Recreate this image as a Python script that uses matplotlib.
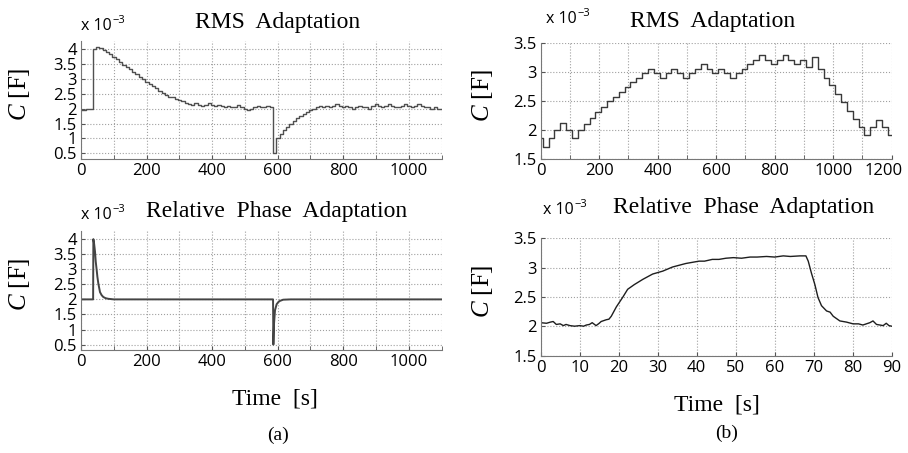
import numpy as np
import matplotlib
matplotlib.use("Agg")
import matplotlib.pyplot as plt
from matplotlib.ticker import MultipleLocator, FormatStrFormatter, FuncFormatter

plt.rcParams['mathtext.fontset'] = 'custom'
plt.rcParams['mathtext.it'] = 'Liberation Serif:italic'
plt.rcParams['mathtext.rm'] = 'Liberation Serif'

# (a) RMS adaptation, staircase (value holds from each time to the next)
rms_a_t = [0] + list(range(6, 1100, 10))
rms_a_c = [1.95, 1.95, 2.0, 2.0, 4.0, 4.08, 4.05, 3.97, 3.9, 3.82,
           3.73, 3.65, 3.57, 3.48, 3.4, 3.32, 3.24, 3.15, 3.07, 2.99,
           2.91, 2.84, 2.76, 2.68, 2.6, 2.53, 2.46, 2.4, 2.4, 2.33,
           2.28, 2.25, 2.2, 2.15, 2.12, 2.18, 2.12, 2.08, 2.12, 2.18,
           2.12, 2.08, 2.12, 2.08, 2.05, 2.08, 2.05, 2.05, 2.12, 2.05,
           2.0, 1.95, 2.0, 2.05, 2.1, 2.05, 2.05, 2.1, 2.05, 0.5,
           1.0, 1.15, 1.3, 1.4, 1.5, 1.6, 1.68, 1.75, 1.82, 1.88,
           1.95, 2.0, 2.05, 2.1, 2.05, 2.1, 2.05, 2.1, 2.15, 2.1,
           2.05, 2.1, 2.05, 2.0, 2.05, 2.1, 2.05, 2.05, 2.0, 2.1,
           2.15, 2.1, 2.05, 2.1, 2.15, 2.1, 2.05, 2.05, 2.1, 2.15,
           2.1, 2.05, 2.1, 2.15, 2.1, 2.05, 2.05, 2.0, 2.05, 2.0,
           2.0]

# (a) relative phase adaptation
rel_a_t = [0, 37, 37.7, 40, 42.8, 45, 47.9, 50, 53, 58, 63, 68, 75, 83,
           100, 300, 586, 587, 589, 592, 597, 602, 607, 617, 640, 1100]
rel_a_c = [2.0, 2.0, 4.0, 3.85, 3.58, 3.25, 2.97, 2.75, 2.52, 2.24, 2.14,
           2.08, 2.04, 2.02, 2.0, 2.0, 2.0, 0.5, 1.2, 1.64, 1.84, 1.91,
           1.95, 1.99, 2.0, 2.0]

# (b) RMS adaptation, 20 s steps
rms_b_t = [0] + list(range(7, 1200, 20))
rms_b_c = [1.86, 1.72, 1.86, 2.0, 2.13, 2.0, 1.86, 2.0, 2.11, 2.22,
           2.32, 2.41, 2.5, 2.58, 2.66, 2.74, 2.83, 2.91, 2.99, 3.06,
           2.99, 2.91, 2.99, 3.06, 2.99, 2.91, 2.99, 3.06, 3.14, 3.06,
           2.99, 3.06, 2.99, 2.91, 2.99, 3.06, 3.14, 3.22, 3.3, 3.22,
           3.14, 3.22, 3.3, 3.22, 3.14, 3.22, 3.1, 3.26, 3.06, 2.91,
           2.78, 2.63, 2.48, 2.34, 2.19, 2.05, 1.92, 2.05, 2.18, 2.05,
           1.92]

# (b) relative phase adaptation
rel_b_t = [0, 1.5, 2.5, 3.2, 4.0, 5.0, 5.8, 6.5, 7.5, 8.7, 10, 11.0, 11.7,
           12.5, 13.2, 14.2, 15.0, 15.5, 16.8, 17.5, 18.1, 19.4, 21, 22.3,
           24, 26.2, 28.7, 31.3, 33.8, 37.2, 40.6, 42.0, 44, 45.7, 47.5,
           49.4, 51.5, 53.7, 55.5, 57.9, 60.0, 62.2, 64.0, 66.5, 68, 68.6,
           69.4, 70.3, 71.1, 72, 73.3, 74.2, 75, 76.7, 78.4, 80.1, 81.5,
           82.6, 84.4, 85.2, 86.1, 87.0, 87.8, 88.6, 89.3, 90]
rel_b_c = [2.06, 2.05, 2.07, 2.08, 2.03, 2.04, 2.01, 2.03, 2.01, 2.0,
           2.01, 2.0, 2.02, 2.03, 2.06, 2.01, 2.05, 2.08, 2.11, 2.12,
           2.17, 2.33, 2.49, 2.63, 2.71, 2.8, 2.89, 2.94, 3.01, 3.07,
           3.11, 3.11, 3.14, 3.14, 3.16, 3.17, 3.16, 3.18, 3.18, 3.19,
           3.18, 3.2, 3.19, 3.2, 3.2, 3.11, 2.91, 2.71, 2.49, 2.35,
           2.26, 2.24, 2.17, 2.09, 2.07, 2.04, 2.04, 2.02, 2.06, 2.09,
           2.03, 2.02, 2.01, 2.05, 2.01, 2.0]

W, H = 908, 453
fig = plt.figure(figsize=(W / 100, H / 100), dpi=100)
TICKFONT = 'Open Sans'


def box(l, t, r, b):
    return [l / W, 1 - b / H, (r - l) / W, (b - t) / H]


def style(ax, xmaj, xmin, ylim, ystep, lab_x):
    ax.set_ylim(*ylim)
    ax.xaxis.set_major_locator(MultipleLocator(xmaj))
    if xmin:
        ax.xaxis.set_minor_locator(MultipleLocator(xmin))
    ax.yaxis.set_major_locator(MultipleLocator(ystep))
    ax.yaxis.set_major_formatter(FormatStrFormatter('%g'))
    ax.grid(which='both', color='#a0a0a0', linestyle=':', linewidth=0.8)
    for s in ['top', 'right']:
        ax.spines[s].set_visible(False)
    for s in ['left', 'bottom']:
        ax.spines[s].set_color('#777777')
        ax.spines[s].set_linewidth(0.8)
    ax.tick_params(which='both', direction='in', length=3, color='#555555',
                   labelsize=12, pad=3)
    for lab in ax.get_xticklabels() + ax.get_yticklabels():
        lab.set_family(TICKFONT)
    ax.set_ylabel(r'$C\ \mathrm{[F]}$', fontsize=18)
    ax.yaxis.set_label_coords(lab_x, 0.55)


serif = 'Liberation Serif'

ax1 = fig.add_axes(box(81, 40.7, 441.5, 159.3))
ax1.plot(rms_a_t + [1100], rms_a_c + [rms_a_c[-1]], drawstyle='steps-post',
         color='#505050', lw=1.0)
ax1.set_xlim(0, 1100)
style(ax1, 200, 100, (0.3, 4.28), 0.5, -0.135)

ax2 = fig.add_axes(box(81, 230.7, 441.5, 350))
ax2.plot(rel_a_t, rel_a_c, color='#444444', lw=1.4)
ax2.set_xlim(0, 1100)
style(ax2, 200, 100, (0.32, 4.28), 0.5, -0.135)

ax3 = fig.add_axes(box(540.7, 43.3, 891.7, 159.3))
ax3.plot(rms_b_t + [1200], rms_b_c + [rms_b_c[-1]], drawstyle='steps-post',
         color='#3a3a3a', lw=1.0)
ax3.set_xlim(0, 1200)
style(ax3, 200, 100, (1.5, 3.5), 0.5, -0.13)
# last label sits a bit inside the axis end, as in the original
ax3.xaxis.set_major_formatter(FuncFormatter(lambda v, p: '' if v >= 1200 else '%g' % v))
ax3.annotate('1200', xy=(1200, 0), xycoords=('data', 'axes fraction'),
             xytext=(-6, -3), textcoords='offset points', ha='center', va='top',
             fontsize=12, family=TICKFONT, annotation_clip=False)

ax4 = fig.add_axes(box(540.7, 238.3, 891.7, 355.5))
ax4.plot(rel_b_t, rel_b_c, color='#1e1e1e', lw=1.0)
ax4.set_xlim(0, 90)
style(ax4, 10, None, (1.5, 3.5), 0.5, -0.13)


def ftext(x, y, s, **kw):
    fig.text(x / W, 1 - y / H, s, **kw)


def exponent(x, y):
    ftext(x, y, 'x 10', family=TICKFONT, fontsize=11.5, va='baseline')
    ftext(x + 31, y - 7, '\u22123', family=TICKFONT, fontsize=8, va='baseline')


ftext(278, 28, 'RMS  Adaptation', family=serif, fontsize=17, ha='center', va='baseline')
exponent(81, 30)
ftext(277, 217, 'Relative  Phase  Adaptation', family=serif, fontsize=17, ha='center', va='baseline')
exponent(81, 219)
ftext(275, 404, 'Time  [s]', family=serif, fontsize=17, ha='center', va='baseline')
ftext(278, 440, '(a)', family=serif, fontsize=14, ha='center', va='baseline')

ftext(713, 27, 'RMS  Adaptation', family=serif, fontsize=17, ha='center', va='baseline')
exponent(546, 23)
ftext(744, 213, 'Relative  Phase  Adaptation', family=serif, fontsize=17, ha='center', va='baseline')
exponent(543, 214)
ftext(717, 410, 'Time  [s]', family=serif, fontsize=17, ha='center', va='baseline')
ftext(727, 438, '(b)', family=serif, fontsize=14, ha='center', va='baseline')

fig.savefig('out.png', dpi=100)
